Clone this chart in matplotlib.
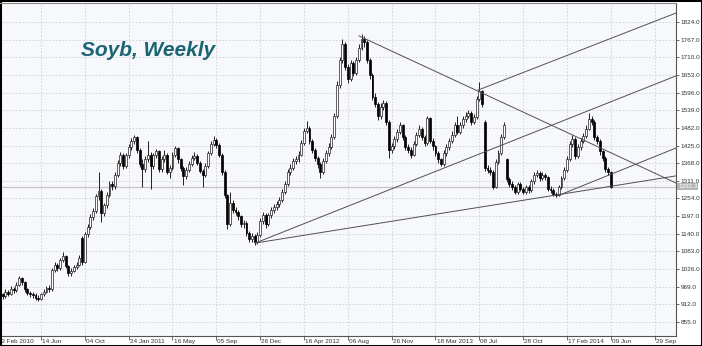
import matplotlib
matplotlib.use('Agg')
import matplotlib.pyplot as plt
import matplotlib.transforms as mtransforms
from matplotlib.patches import Rectangle
import numpy as np

# ---- weekly OHLC (bar 1 = first visible week, Feb 2010) ----
opens = [950, 945, 938, 952, 946, 962, 957, 975, 996, 984,
         960, 950, 944, 941, 934, 930, 944, 953, 966, 960,
         1024, 1040, 1030, 1054, 1068, 1036, 1013, 1021, 1034, 1040,
         1126, 1050, 1138, 1162, 1195, 1214, 1262, 1278, 1206, 1232,
         1266, 1300, 1294, 1330, 1368, 1394, 1360, 1394, 1420, 1440,
         1452, 1410, 1366, 1350, 1380, 1396, 1358, 1394, 1406, 1350,
         1380, 1396, 1340, 1352, 1396, 1416, 1380, 1352, 1326, 1346,
         1366, 1386, 1392, 1370, 1344, 1330, 1360, 1400, 1430, 1442,
         1426, 1396, 1340, 1266, 1172, 1240, 1216, 1210, 1196, 1172,
         1176, 1142, 1122, 1132, 1112, 1136, 1180, 1200, 1172, 1200,
         1216, 1226, 1236, 1250, 1276, 1300, 1340, 1352, 1376, 1380,
         1396, 1432, 1472, 1482, 1440, 1410, 1386, 1366, 1340, 1376,
         1400, 1420, 1452, 1520, 1620, 1700, 1752, 1680, 1640, 1690,
         1660, 1702, 1740, 1770, 1760, 1700, 1652, 1582, 1560, 1520,
         1550, 1562, 1500, 1410, 1422, 1446, 1470, 1490, 1452, 1420,
         1412, 1396, 1430, 1460, 1480, 1452, 1432, 1514, 1440, 1422,
         1402, 1380, 1366, 1400, 1420, 1440, 1460, 1490, 1470, 1490,
         1510, 1522, 1530, 1500, 1516, 1576, 1600, 1500, 1352, 1346,
         1340, 1292, 1372, 1400, 1452, 1380, 1316, 1300, 1290, 1276,
         1300, 1286, 1276, 1290, 1280, 1310, 1330, 1336, 1320, 1330,
         1322, 1286, 1280, 1270, 1266, 1290, 1320, 1346, 1380, 1430,
         1446, 1390, 1420, 1440, 1456, 1480, 1512, 1500, 1452, 1440,
         1406, 1386, 1350, 1340]
closes = [945, 938, 952, 946, 962, 957, 975, 996, 984, 960,
          950, 944, 941, 934, 930, 944, 953, 966, 960, 1024,
          1040, 1030, 1054, 1068, 1036, 1013, 1021, 1034, 1040, 1062,
          1050, 1138, 1162, 1195, 1214, 1262, 1278, 1206, 1232, 1266,
          1300, 1294, 1330, 1368, 1394, 1360, 1394, 1420, 1440, 1452,
          1410, 1366, 1350, 1380, 1396, 1358, 1394, 1406, 1350, 1380,
          1396, 1340, 1352, 1396, 1416, 1380, 1352, 1326, 1346, 1366,
          1386, 1392, 1370, 1344, 1330, 1360, 1400, 1430, 1442, 1426,
          1396, 1340, 1266, 1172, 1240, 1216, 1210, 1196, 1172, 1176,
          1142, 1122, 1132, 1112, 1136, 1180, 1200, 1172, 1200, 1216,
          1226, 1236, 1250, 1276, 1300, 1340, 1352, 1376, 1380, 1396,
          1432, 1472, 1482, 1440, 1410, 1386, 1366, 1340, 1376, 1400,
          1420, 1452, 1520, 1620, 1700, 1752, 1680, 1640, 1690, 1660,
          1702, 1740, 1770, 1760, 1700, 1652, 1582, 1560, 1520, 1550,
          1562, 1500, 1410, 1422, 1446, 1470, 1490, 1452, 1420, 1412,
          1396, 1430, 1460, 1480, 1452, 1432, 1514, 1440, 1422, 1402,
          1380, 1366, 1400, 1420, 1440, 1460, 1490, 1470, 1490, 1510,
          1522, 1530, 1500, 1516, 1576, 1600, 1560, 1352, 1346, 1340,
          1292, 1372, 1400, 1452, 1490, 1316, 1300, 1290, 1276, 1300,
          1286, 1276, 1290, 1280, 1310, 1330, 1336, 1320, 1330, 1322,
          1286, 1280, 1270, 1266, 1290, 1320, 1346, 1380, 1430, 1446,
          1390, 1420, 1440, 1456, 1480, 1512, 1500, 1452, 1440, 1406,
          1386, 1350, 1340, 1292.3]
highs = [958, 950, 960, 958, 970, 968, 984, 1004, 1000, 988,
         966, 956, 952, 948, 942, 950, 960, 972, 974, 1030,
         1050, 1046, 1062, 1082, 1072, 1040, 1030, 1040, 1048, 1070,
         1132, 1146, 1170, 1204, 1224, 1270, 1340, 1284, 1240, 1274,
         1310, 1312, 1338, 1378, 1404, 1400, 1402, 1430, 1448, 1460,
         1456, 1418, 1380, 1392, 1440, 1404, 1402, 1414, 1410, 1390,
         1410, 1400, 1362, 1404, 1425, 1420, 1386, 1360, 1356, 1374,
         1396, 1404, 1398, 1376, 1350, 1368, 1408, 1440, 1456, 1450,
         1432, 1402, 1346, 1270, 1275, 1248, 1226, 1218, 1200, 1186,
         1180, 1150, 1142, 1140, 1146, 1190, 1210, 1206, 1208, 1226,
         1236, 1246, 1260, 1284, 1310, 1350, 1364, 1386, 1392, 1406,
         1442, 1482, 1505, 1488, 1446, 1416, 1392, 1372, 1384, 1410,
         1432, 1462, 1530, 1632, 1712, 1770, 1758, 1688, 1700, 1698,
         1712, 1752, 1785, 1780, 1765, 1708, 1660, 1594, 1566, 1562,
         1572, 1568, 1506, 1434, 1456, 1480, 1500, 1496, 1460, 1430,
         1420, 1440, 1470, 1490, 1486, 1458, 1522, 1518, 1448, 1428,
         1408, 1386, 1410, 1430, 1450, 1472, 1500, 1522, 1500, 1520,
         1532, 1540, 1536, 1526, 1586, 1630, 1606, 1506, 1362, 1356,
         1346, 1380, 1410, 1462, 1502, 1386, 1322, 1310, 1296, 1308,
         1306, 1292, 1298, 1296, 1318, 1338, 1346, 1342, 1340, 1336,
         1326, 1294, 1288, 1276, 1298, 1328, 1356, 1390, 1440, 1458,
         1452, 1430, 1450, 1466, 1492, 1530, 1520, 1506, 1460, 1446,
         1412, 1392, 1356, 1344]
lows = [936, 930, 934, 938, 942, 950, 952, 970, 975, 952,
        942, 936, 932, 926, 922, 925, 938, 948, 952, 956,
        1016, 1020, 1024, 1048, 1028, 1004, 1005, 1015, 1026, 1036,
        1040, 1046, 1130, 1156, 1186, 1208, 1250, 1178, 1196, 1224,
        1258, 1282, 1286, 1322, 1360, 1350, 1352, 1386, 1410, 1430,
        1400, 1356, 1290, 1340, 1372, 1285, 1350, 1384, 1340, 1340,
        1372, 1332, 1320, 1346, 1388, 1370, 1342, 1297, 1318, 1338,
        1360, 1378, 1362, 1336, 1291, 1322, 1354, 1394, 1424, 1416,
        1388, 1330, 1256, 1155, 1166, 1206, 1200, 1186, 1162, 1160,
        1134, 1112, 1114, 1104, 1106, 1130, 1172, 1160, 1166, 1192,
        1206, 1218, 1228, 1244, 1270, 1294, 1330, 1346, 1366, 1372,
        1390, 1426, 1464, 1430, 1400, 1374, 1352, 1320, 1334, 1368,
        1392, 1414, 1446, 1514, 1612, 1690, 1668, 1626, 1632, 1650,
        1652, 1694, 1732, 1742, 1690, 1640, 1572, 1548, 1508, 1512,
        1540, 1490, 1385, 1400, 1414, 1438, 1462, 1442, 1410, 1402,
        1385, 1390, 1424, 1452, 1444, 1424, 1426, 1432, 1412, 1392,
        1370, 1358, 1360, 1392, 1412, 1432, 1452, 1462, 1462, 1482,
        1502, 1514, 1492, 1494, 1510, 1570, 1550, 1342, 1336, 1330,
        1285, 1288, 1366, 1394, 1446, 1306, 1290, 1280, 1268, 1270,
        1278, 1268, 1270, 1272, 1276, 1302, 1322, 1312, 1314, 1314,
        1278, 1272, 1262, 1258, 1262, 1284, 1314, 1340, 1374, 1420,
        1380, 1384, 1412, 1432, 1450, 1474, 1490, 1444, 1430, 1396,
        1376, 1340, 1330, 1288]

tick_bars = [0, 16, 32, 48, 64, 80, 96, 112, 128, 144, 160, 176, 192, 208, 224, 240]
tick_labels = ['22 Feb 2010', '14 Jun', '04 Oct', '24 Jan 2011', '16 May', '05 Sep',
               '26 Dec', '16 Apr 2012', '06 Aug', '26 Nov', '18 Mar 2013', '08 Jul',
               '28 Oct', '17 Feb 2014', '09 Jun', '29 Sep']
price_ticks = [855.0, 912.0, 969.0, 1026.0, 1083.0, 1140.0, 1197.0, 1254.0, 1311.0,
               1368.0, 1425.0, 1482.0, 1539.0, 1596.0, 1653.0, 1710.0, 1767.0, 1824.0]
last_price = 1292.3

# trend lines (bar, price) -> (bar, price)
trend_lines = [
    ((175.5, 1604), (247.8, 1853)),
    ((94.2, 1110), (247.8, 1650)),
    ((132.1, 1779), (247.8, 1304)),
    ((94.2, 1110), (247.8, 1327)),
    ((204.4, 1262), (247.8, 1417)),
]

W, H = 702, 346
fig = plt.figure(figsize=(W / 100, H / 100), dpi=100)
fig.patch.set_facecolor('white')
ax = fig.add_axes([2 / W, 10 / H, 674 / W, 333 / H])
ax.set_facecolor('#f7f8fc')
ax.set_xlim(1.76, 247.8)
ax.set_ylim(809.8, 1885.4)

# grid
for p in price_ticks:
    ax.axhline(p, color='#cfd0d8', lw=0.6, ls=(0, (2, 2)), zorder=0)
for b in tick_bars[1:]:
    ax.axvline(b, color='#cfd0d8', lw=0.6, ls=(0, (2, 2)), zorder=0)

# last price line
ax.axhline(last_price, color='#c4c4c4', lw=0.9, zorder=1)

n = len(closes)
xs = np.arange(1, n + 1)
o = np.array(opens, float)
c = np.array(closes, float)
hi = np.array(highs, float)
lo = np.array(lows, float)
ax.vlines(xs, lo, hi, color='#202020', lw=0.7, zorder=2)
up = c >= o
body_bottom = np.minimum(o, c)
body_h = np.maximum(np.abs(c - o), 1.5)
ax.bar(xs[up], body_h[up], bottom=body_bottom[up], width=0.7,
       color='white', edgecolor='#202020', lw=0.5, zorder=3)
ax.bar(xs[~up], body_h[~up], bottom=body_bottom[~up], width=0.7,
       color='black', edgecolor='black', lw=0.5, zorder=3)

# trend lines
for (x0, p0), (x1, p1) in trend_lines:
    ax.plot([x0, x1], [p0, p1], color='#505050', lw=0.7, zorder=4)

# axes styling
for s in ['left', 'top']:
    ax.spines[s].set_visible(False)
ax.spines['right'].set_color('#555555')
ax.spines['bottom'].set_color('#555555')
ax.spines['right'].set_linewidth(0.8)
ax.spines['bottom'].set_linewidth(0.8)
ax.yaxis.tick_right()
ax.set_yticks(price_ticks)
ax.set_yticklabels(['%.1f' % p for p in price_ticks])
ax.tick_params(axis='y', length=2.5, width=0.6, color='#555555', labelsize=4.6,
               labelcolor='#333333', pad=1)
ax.set_xticks(tick_bars[1:])
ax.set_xticklabels([])
ax.tick_params(axis='x', length=3, width=0.6, color='#555555')
trans = mtransforms.blended_transform_factory(ax.transData, ax.transAxes)
for b, lab in zip(tick_bars, tick_labels):
    ax.text(b + 0.4, -0.008, lab, transform=trans, ha='left', va='top',
            fontsize=4.6, color='#333333', family='Liberation Sans', clip_on=False)
for lbl in ax.get_yticklabels():
    lbl.set_family('Liberation Sans')

# last price label
transy = mtransforms.blended_transform_factory(ax.transAxes, ax.transData)
ax.text(1.003, last_price, '%.1f' % last_price, transform=transy, ha='left', va='center',
        fontsize=4.6, color='white', family='Liberation Sans',
        bbox=dict(boxstyle='square,pad=0.12', fc='#b4b4b4', ec='none'), zorder=5)

# top border of plot
fig.add_artist(plt.Line2D([0, 676 / W], [1 - 3 / H, 1 - 3 / H], transform=fig.transFigure,
                          color='#888888', lw=0.8))

# title
fig.text(81 / W, 1 - 56 / H, 'Soyb, Weekly', fontsize=15, fontweight='bold', fontstyle='italic',
         color='#1b6572', family='Liberation Sans', va='baseline', ha='left')

# image border
fig.add_artist(Rectangle((0, 0), 1, 1, transform=fig.transFigure, fill=False,
                         ec='black', lw=2.2))

fig.savefig('out.png', dpi=100)
